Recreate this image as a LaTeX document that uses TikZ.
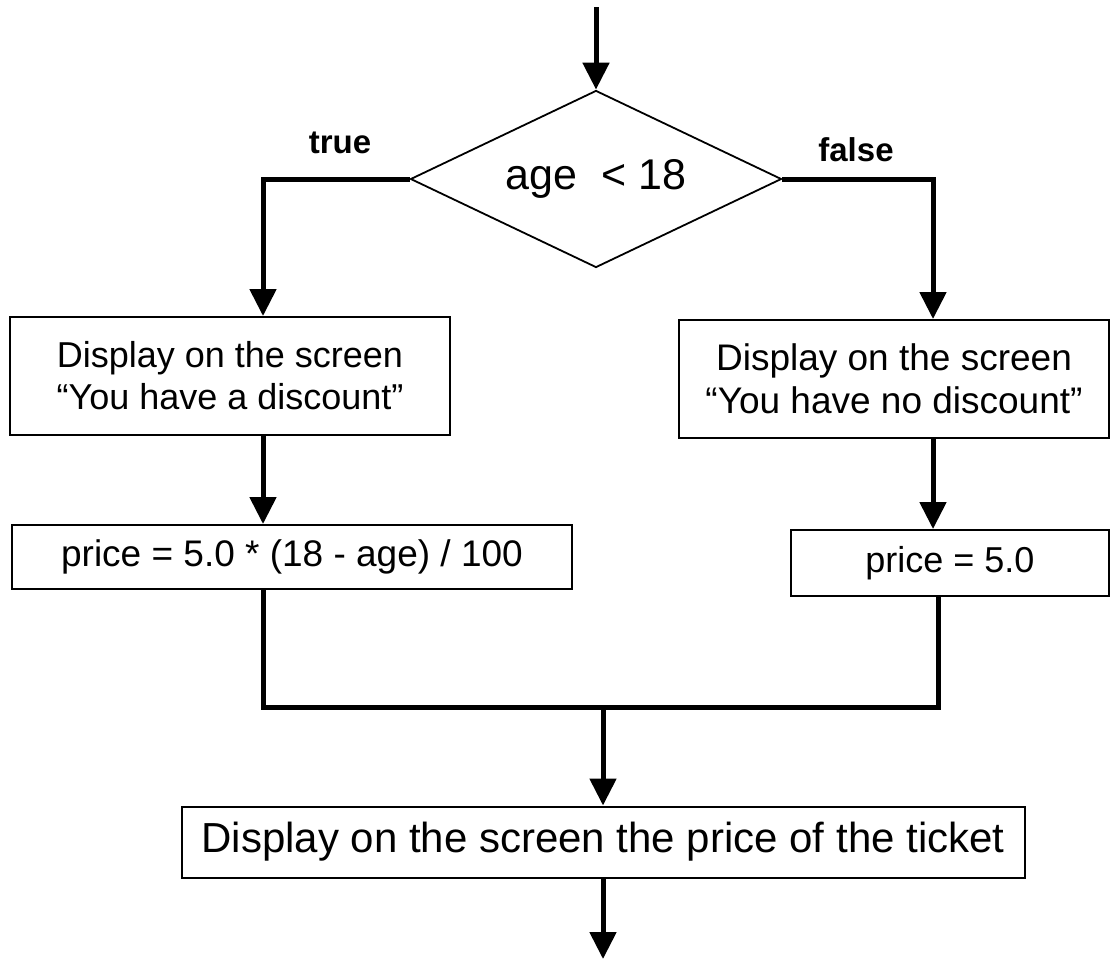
\documentclass[tikz,border=0pt]{standalone}
\usepackage{fontspec}
\setmainfont{Liberation Sans}
\usetikzlibrary{arrows.meta,shapes.geometric}
\begin{document}
\begin{tikzpicture}[x=1pt,y=-1pt,
  flow/.style={line width=5pt},
  arr/.style={flow,-{Triangle[width=26pt,length=27pt]}},
  box/.style={draw,line width=2pt,align=center,inner sep=0pt},
  lbl/.style={font=\fontsize{33}{38}\selectfont\bfseries}]
\useasboundingbox (0,0) rectangle (1111,959);

% decision
\node[diamond,aspect=2.1,draw,line width=1.8pt,inner sep=0pt,minimum width=371pt,minimum height=177pt,
  font=\fontsize{43}{48}\selectfont] (cond) at (596,179) {age\ \ < 18};

% branch boxes
\node[box,minimum width=440pt,minimum height=118pt,font=\fontsize{36}{42}\selectfont] (yes) at (230,376)
  {Display on the screen\\“You have a discount”};
\node[box,minimum width=430pt,minimum height=118pt,font=\fontsize{37}{43}\selectfont] (no) at (894,379)
  {Display on the screen\\“You have no discount”};
\node[box,minimum width=560pt,minimum height=64pt,font=\fontsize{37}{42}\selectfont] (ypr) at (292,557)
  {price = 5.0 * (18 - age) / 100};
\node[box,minimum width=318pt,minimum height=66pt,font=\fontsize{36}{42}\selectfont] (npr) at (950,563)
  {price = 5.0};
\node[box,minimum width=843pt,minimum height=71pt,font=\fontsize{42}{48}\selectfont] (show) at (603,842)
  {Display on the screen the price of the ticket};

% branch labels
\node[lbl] (tl) at (340,143) {true};
\node[lbl] (fl) at (856,150) {false};

% helper points for the vertical runs
\coordinate (start) at (596,7);
\coordinate (lx) at (263,0);
\coordinate (rx) at (933,0);
\coordinate (rx2) at (938,0);
\coordinate (mid) at (603,707);
\coordinate (stop) at (603,959);

% connectors
\draw[arr] (start) -- (cond.north);
\draw[arr] (cond.west) -| (lx |- yes.north);
\draw[arr] (cond.east) -| (rx |- no.north);
\draw[arr] (lx |- yes.south) -- (lx |- ypr.north);
\draw[arr] (rx |- no.south) -- (rx |- npr.north);
\draw[flow] (lx |- ypr.south) |- (mid) -| (rx2 |- npr.south);
\draw[arr] (mid) -- (mid |- show.north);
\draw[arr] (mid |- show.south) -- (stop);
\end{tikzpicture}
\end{document}
